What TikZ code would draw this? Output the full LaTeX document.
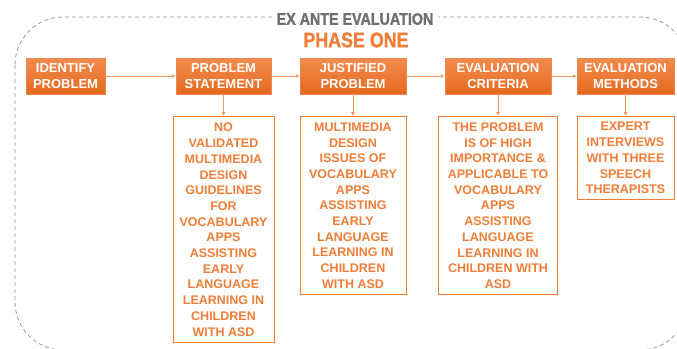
\documentclass[tikz,border=0pt]{standalone}
\usepackage{fontspec}
\setmainfont{Liberation Sans}
\newfontfamily\narrowbold[FakeStretch=0.85,FakeBold=1.2,BoldFont={Liberation Sans Bold}]{Liberation Sans}
\usetikzlibrary{positioning,arrows.meta}
\definecolor{orTop}{HTML}{F28C4E}
\definecolor{orBot}{HTML}{E5691F}
\definecolor{orText}{HTML}{EF7E38}
\definecolor{orLine}{HTML}{F29A62}
\definecolor{frameGray}{HTML}{9A9A9A}
\definecolor{ttlGray}{HTML}{6F6F6F}

\begin{document}
\begin{tikzpicture}[x=1pt,y=-1pt,node distance=22pt,
  stage/.style={minimum height=36pt,inner sep=2pt,align=center,text=white,
    top color=orTop,bottom color=orBot,draw=orBot!80!white,
    font=\bfseries\fontsize{13}{15.5}\selectfont},
  detail/.style={draw=orText,line width=0.9pt,fill=white,align=center,text=orText,
    inner sep=3pt,font=\bfseries\fontsize{12.5}{15.7}\selectfont},
  ar/.style={-{Latex[length=4pt,width=4pt]},draw=orLine,line width=0.9pt}]
\useasboundingbox (0,0) rectangle (677,348);
\draw[frameGray,line width=0.8pt,dash pattern=on 4pt off 3pt,rounded corners=48pt]
  (15,17) rectangle (688,350);
\node[fill=white,inner xsep=5pt,inner ysep=1pt,text=ttlGray,
  font=\narrowbold\bfseries\fontsize{16.8}{18}\selectfont] (ttl) at (355,19) {EX ANTE EVALUATION};
\node[text=orText,inner sep=0pt,font=\narrowbold\bfseries\fontsize{21}{22}\selectfont] (phase) at (356,40) {PHASE ONE};
\node[stage,minimum width=79pt] (idp) at (65.5,76) {IDENTIFY\\PROBLEM};
\node[stage,minimum width=95pt] (pst) at (223.5,76) {PROBLEM\\STATEMENT};
\node[stage,minimum width=106pt] (jpr) at (353,76) {JUSTIFIED\\PROBLEM};
\node[stage,minimum width=106pt] (ecr) at (498,76) {EVALUATION\\CRITERIA};
\node[stage,minimum width=97pt] (emt) at (625.5,76) {EVALUATION\\METHODS};
\node[detail,below=of pst,minimum width=101pt,minimum height=226pt] (pstd)
  {NO\\VALIDATED\\MULTIMEDIA\\DESIGN\\GUIDELINES\\FOR\\VOCABULARY\\APPS\\ASSISTING\\EARLY\\LANGUAGE\\LEARNING IN\\CHILDREN\\WITH ASD};
\node[detail,below=of jpr,minimum width=106pt,minimum height=178pt] (jprd)
  {MULTIMEDIA\\DESIGN\\ISSUES OF\\VOCABULARY\\APPS\\ASSISTING\\EARLY\\LANGUAGE\\LEARNING IN\\CHILDREN\\WITH ASD};
\node[detail,below=of ecr,minimum width=119pt,minimum height=178pt] (ecrd)
  {THE PROBLEM\\IS OF HIGH\\IMPORTANCE \&\\APPLICABLE TO\\VOCABULARY\\APPS\\ASSISTING\\LANGUAGE\\LEARNING IN\\CHILDREN WITH\\ASD};
\node[detail,below=of emt,minimum width=97pt,minimum height=83pt] (emtd)
  {EXPERT\\INTERVIEWS\\WITH THREE\\SPEECH\\THERAPISTS};
\draw[ar] (idp) -- (pst);
\draw[ar] (pst) -- (jpr);
\draw[ar] (jpr) -- (ecr);
\draw[ar] (ecr) -- (emt);
\foreach \s in {pst,jpr,ecr,emt}
  \draw[ar] (\s) -- (\s d);
\end{tikzpicture}
\end{document}
